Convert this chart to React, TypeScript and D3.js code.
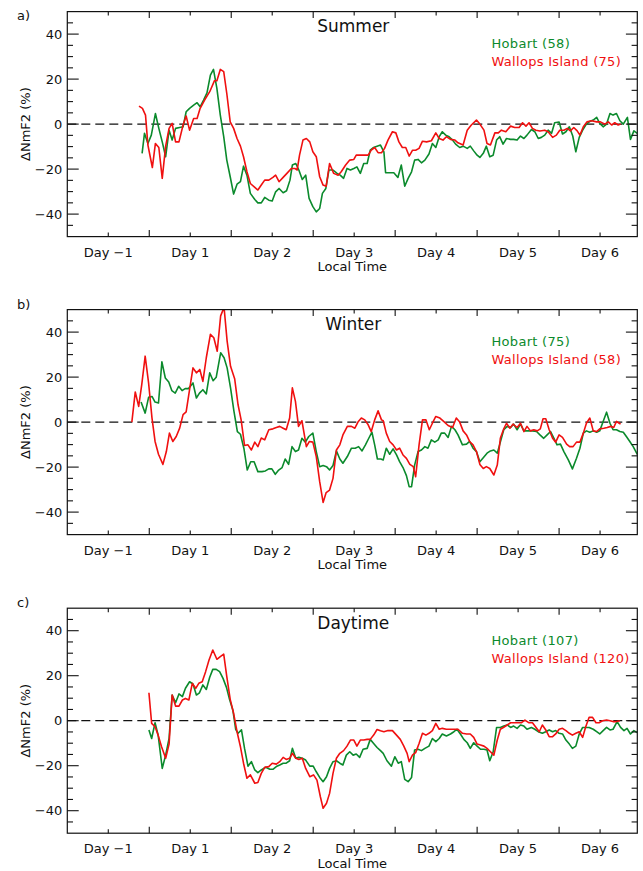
import React from "react";
import * as d3 from "d3";

// ---------- data (hours from storm onset, ΔNmF2 %) ----------
const panelLetters = ["a)", "b)", "c)"];
const panelTitles = ["Summer", "Winter", "Daytime"];
const hobartCounts = [58, 75, 107];
const wallopsCounts = [75, 58, 120];
const dayTickHours = [-12, 12, 36, 60, 84, 108, 132];
const dayTickLabels = ["Day \u22121", "Day 1", "Day 2", "Day 3", "Day 4", "Day 5", "Day 6"];
const yLabelTicks = [-40, -20, 0, 20, 40];

const summerHobart: [number, number][] = [
  [-2.1, -13.0], [-1.4, -4.1], [-0.4, -8.6], [0.6, -4.9], [1.8, 4.7], [2.8, -1.9], [3.8, -7.9], [4.8, -14.5],
  [5.8, -2.7], [6.7, -7.1], [7.7, -1.9], [8.9, -1.5], [9.9, -1.2], [10.8, 5.5], [11.8, 7.0], [13.0, 8.4],
  [14.0, 9.5], [14.9, 7.7], [15.9, 10.7], [16.9, 13.9], [17.9, 21.8], [18.8, 24.3], [19.8, 15.9], [20.8, 4.0],
  [21.8, -5.6], [22.7, -16], [23.7, -23.4], [24.7, -31.1], [25.7, -26.7], [26.7, -25.6], [27.6, -18.7],
  [28.6, -22.7], [29.6, -30.8], [30.9, -33.5], [31.8, -35], [32.8, -35], [33.8, -32.6], [35.0, -33.8],
  [36.0, -34.2], [37.0, -30.1], [38.0, -28.6], [39.2, -30.5], [40.2, -29.6], [41.2, -24.9], [41.9, -18.2],
  [42.9, -17.5], [43.8, -20.4], [44.8, -24.6], [45.8, -22.7], [46.8, -33], [47.9, -36.7], [48.9, -39],
  [49.9, -37.5], [50.7, -30.8], [51.7, -28.6], [52.6, -20.4], [53.8, -20.4], [55.0, -21.9], [55.9, -22.7],
  [56.9, -24.1], [57.9, -19.7], [58.9, -20.4], [59.9, -19.7], [60.8, -19], [61.8, -21.9], [62.8, -17.5],
  [63.8, -17.5], [64.7, -11.6], [65.7, -10.4], [66.7, -9.8], [67.7, -9.3], [68.7, -12.3], [69.2, -21.6],
  [70.4, -21.6], [71.6, -21.6], [72.8, -23.7], [73.8, -18.2], [74.8, -27.6], [75.8, -24.1], [76.8, -21.2],
  [77.7, -16], [78.7, -15.7], [79.7, -17.2], [80.7, -16], [81.9, -13.3], [82.9, -8.6], [83.9, -10.4],
  [84.9, -5.6], [85.8, -3.4], [86.8, -4.9], [87.8, -5.6], [88.8, -7.1], [89.7, -8.9], [90.9, -10.4],
  [91.9, -9.8], [93.1, -10.8], [94.0, -9.8], [95.0, -11.9], [96.0, -13.8], [96.8, -14.8], [97.8, -13.0],
  [98.7, -9.8], [99.7, -14.5], [100.7, -13.8], [101.7, -7.1], [102.6, -5.6], [103.6, -8.9], [104.6, -6.4],
  [105.8, -6.8], [106.7, -6.8], [107.7, -7.1], [108.7, -5.3], [109.7, -6.4], [110.6, -4.9], [111.9, -2.4],
  [112.9, -3.4], [113.9, -6.4], [114.8, -5.9], [115.8, -4.9], [116.8, -2.7], [117.8, -4.1], [118.7, 0.6],
  [120.0, 0.9], [121.0, -4.4], [122.0, -3.4], [123.0, -1.2], [124.0, -5.3], [124.9, -12.3], [125.9, -5.9],
  [126.9, -2.7], [127.8, -0.4], [128.8, 1.0], [130.0, 1.8], [131.0, 3.0], [131.9, 0.3], [132.9, -1.2],
  [133.9, 0], [134.9, 4.7], [135.8, 4.0], [136.8, 4.7], [137.8, 1.5], [138.8, 0], [140.0, 3.0],
  [140.9, -6.8], [141.9, -3.0], [142.9, -4.1],
];

const summerWallops: [number, number][] = [
  [-3.0, 8.0], [-2.0, 7], [-1.1, 4], [-0.4, -9.3], [0.9, -19.3], [1.8, -8.6], [2.8, -10.4], [3.8, -24.1],
  [4.8, -9.8], [5.8, -1.9], [6.7, 0.3], [7.7, -7.9], [8.7, -7.9], [9.9, -0.4], [10.8, 3.6], [11.8, -2.7],
  [13.0, 2.5], [14.0, 2.5], [14.9, 7], [16.2, 10.7], [17.7, 14.4], [19.1, 19.3], [19.8, 19.3], [20.8, 24.3],
  [21.8, 23.3], [22.7, 13.6], [23.7, 1.0], [24.7, -1.9], [25.7, -6.4], [26.7, -9.8], [27.6, -14.5],
  [28.6, -21.2], [29.6, -26.4], [30.9, -28.1], [31.8, -29.3], [32.8, -27.1], [33.8, -24.9], [35.0, -24.9],
  [36.2, -23.7], [37.0, -22.7], [38.0, -25.6], [39.2, -23.7], [40.3, -21.9], [41.6, -19.7], [42.6, -19.7],
  [43.3, -20.4], [44.0, -13.8], [45.0, -7.1], [46.0, -6.4], [47.0, -7.9], [47.9, -12.3], [48.9, -14.5],
  [49.9, -23.4], [50.9, -27.1], [51.8, -27.6], [52.8, -17.5], [54.0, -21.9], [55.3, -22.7], [56.2, -21.2],
  [57.5, -18.2], [58.7, -16], [59.9, -15.7], [60.6, -13.8], [61.8, -13.8], [63.1, -13.8], [64.1, -13.8],
  [65.0, -11.6], [66.0, -10.4], [67.0, -12.7], [68.0, -12.7], [68.9, -10.8], [69.9, -7.1], [71.2, -3.4],
  [72.2, -3.9], [73.1, -7.9], [74.1, -10.4], [75.1, -10.4], [76.1, -14.2], [77.1, -11.6], [78.0, -11.6],
  [79.0, -10.8], [80.0, -7.6], [81.2, -7.9], [82.6, -7.4], [83.9, -3.9], [84.9, -6.4], [86.0, -7.1],
  [87.0, -5.6], [88.2, -6.8], [89.5, -7.1], [90.4, -8.3], [91.9, -9.3], [93.1, -2.7], [94.3, -0.4],
  [95.8, 1.8], [96.8, 0], [98.0, -2.7], [98.9, -8.6], [99.9, -9.3], [101.2, -3.9], [102.2, -3.9],
  [103.1, -2.7], [104.4, -3.4], [105.8, -0.9], [107.0, -1.5], [108.3, -1.5], [109.3, 0.6], [110.3, -0.9],
  [111.2, 0.6], [112.2, -1.9], [113.2, -2.7], [114.4, -3.1], [115.8, -2.7], [116.8, -3.4], [118.1, -5.9],
  [119.2, -4.9], [120.2, -2.7], [121.4, -2.7], [122.4, -1.9], [123.3, -3.0], [124.3, -1.5], [125.3, -3.0],
  [126.1, -4.9], [127.1, -1.2], [128.2, 1.0], [129.5, 1.5], [131.0, 1.0], [132.1, 1.0], [133.4, 0],
  [134.4, 1.0], [135.4, -0.4], [136.3, 0.6], [137.3, -0.4], [138.0, 0],
];

const winterHobart: [number, number][] = [
  [-2.4, 8.9], [-1.2, 4.0], [-0.2, 11.0], [0.8, 11.4], [1.7, 8.9], [2.7, 8.5], [3.7, 26.8], [4.7, 19.6],
  [5.7, 17.8], [6.6, 14.0], [7.6, 12.9], [8.6, 15.9], [9.6, 14.0], [10.5, 14.9], [11.5, 14.9], [12.8, 17.4],
  [13.8, 10.7], [14.7, 12.9], [15.7, 14.4], [16.7, 12.5], [17.7, 21.9], [18.7, 18.4], [19.6, 19.9],
  [20.9, 30.8], [21.9, 28.6], [22.8, 24.1], [23.8, 15.2], [24.8, 4.8], [25.8, -4.2], [26.7, -5.4],
  [27.7, -11.6], [28.7, -21.3], [29.7, -17.6], [30.7, -17.6], [31.8, -22.0], [33.0, -22.0], [34.0, -21.7],
  [35.0, -20.8], [35.9, -20.8], [36.9, -23.2], [37.9, -21.3], [38.9, -20.2], [39.8, -16.4], [40.8, -18.8],
  [41.8, -10.9], [42.8, -13.1], [43.7, -12.4], [44.7, -7.2], [45.7, -8.9], [46.7, -6.4], [47.9, -4.9],
  [48.9, -13.1], [49.9, -19.8], [50.9, -19.3], [51.9, -19.8], [52.8, -21.3], [53.8, -19.3], [54.8, -12.8],
  [55.8, -16.4], [56.7, -18.3], [58.0, -15.3], [59.2, -11.6], [60.3, -11.6], [61.3, -10.9], [62.3, -12.8],
  [63.3, -10.1], [64.2, -7.4], [65.2, -4.5], [66.0, -10.1], [66.8, -16.4], [67.8, -16.4], [68.5, -16.8],
  [69.4, -11.6], [70.4, -14.3], [71.4, -11.9], [72.4, -14.6], [73.3, -17.6], [74.3, -20.2], [75.3, -23.8],
  [76.1, -28.7], [76.8, -28.7], [77.7, -19.1], [78.7, -13.1], [79.7, -12.4], [80.7, -10.9], [81.6, -11.6],
  [82.6, -7.9], [83.6, -8.9], [84.6, -7.9], [85.5, -4.9], [86.5, -4.9], [87.5, -6.8], [88.5, -1.9],
  [89.5, -3.4], [90.4, -5.7], [91.7, -10.1], [92.9, -9.8], [93.8, -8.6], [94.8, -11.6], [95.8, -13.1],
  [96.8, -17.6], [97.8, -15.8], [98.9, -13.8], [99.9, -12.8], [100.9, -12.4], [101.9, -13.8], [102.8, -8.9],
  [103.8, -3.4], [104.8, -1.9], [105.8, -2.4], [106.7, -0.9], [107.7, -3.4], [108.7, -0.9], [109.7, -3.9],
  [110.9, -3.9], [112.2, -3.9], [113.4, -4.2], [114.4, -5.7], [115.5, -7.2], [116.5, -5.7], [117.5, -4.2],
  [118.5, -7.2], [119.4, -10.1], [120.4, -9.8], [121.4, -13.1], [122.7, -16.8], [123.9, -20.8], [125.1, -16.1],
  [126.1, -11.6], [127.1, -4.9], [128.0, -3.9], [129.0, -4.5], [130.0, -3.9], [131.0, -4.5], [131.9, -3.9],
  [132.9, 0.3], [133.9, 4.4], [134.9, -0.5], [135.8, -3.4], [136.8, -3.4], [137.8, -4.2], [138.8, -4.5],
  [139.7, -6.4], [140.7, -8.6], [141.7, -10.9], [142.9, -14.3],
];

const winterWallops: [number, number][] = [
  [-5.1, 0], [-4.1, 13.4], [-3.1, 7], [-2.2, 16.7], [-1.2, 29.3], [-0.2, 17.4], [0.8, 1.8], [1.7, -8.6],
  [2.7, -14.3], [4.0, -18.8], [5.0, -13.1], [5.9, -4.9], [6.9, -8.6], [7.9, -6.4], [8.9, -2.7], [9.9, 3.3],
  [10.8, 4.5], [11.8, 14.4], [12.8, 24.1], [13.8, 21.9], [14.8, 23.4], [15.7, 18.1], [16.7, 28.6],
  [17.9, 39], [18.9, 37.5], [19.9, 31.5], [20.9, 47.2], [21.9, 51], [22.8, 36], [23.8, 24.8], [25.0, 19.3],
  [26.0, 7.7], [26.9, 1], [27.9, -10.4], [28.9, -10.1], [29.9, -12.4], [30.9, -8.9], [31.8, -10.9],
  [32.8, -7.1], [33.8, -7.9], [35.0, -3.4], [36.2, -3.0], [37.2, -2.4], [38.2, -1.9], [39.2, -2.7],
  [40.1, -3.4], [41.1, 1.8], [41.9, 15.2], [42.8, 9.2], [43.7, -1.9], [44.7, 0.6], [46.0, -10.9],
  [46.9, -8.6], [47.9, -8.9], [48.9, -15.3], [49.9, -26.5], [50.9, -35.7], [51.8, -31.3], [52.8, -30.2],
  [53.8, -25], [54.8, -12.4], [55.8, -10.1], [56.7, -5.7], [58.0, -1.9], [59.2, -1.9], [60.2, -2.7],
  [61.1, 0], [62.1, 1.8], [63.1, 1], [64.1, -1.2], [65.0, -4.2], [66.0, 1], [67.0, 5], [68.0, 1],
  [68.5, 0.6], [69.4, -4.9], [70.4, -8.6], [71.4, -10.1], [72.4, -12.4], [73.3, -11.6], [74.3, -14.6],
  [75.3, -16.1], [76.3, -18.8], [77.3, -19.8], [78.0, -24.3], [79.0, -10.1], [80.0, 1.0], [81.0, 1.0],
  [82.0, -3.4], [82.9, -0.5], [83.9, 2.5], [85.1, 1.8], [86.2, 0.3], [87.5, -1.5], [88.8, -2.4], [89.9, 1.8],
  [90.9, 0], [91.9, -3.9], [92.9, -5.7], [93.8, -8.6], [94.8, -10.1], [95.8, -13.1], [96.8, -18.8],
  [97.8, -20.6], [98.7, -19.8], [99.7, -20.6], [100.9, -23.5], [101.9, -19.1], [102.8, -7.2], [103.8, -3.0],
  [104.6, -0.5], [105.6, -2.7], [106.5, -0.9], [107.7, -2.4], [108.7, -0.5], [109.7, -4.2], [110.6, -1.9],
  [111.6, -3.9], [112.6, -3.4], [113.6, -3.9], [114.5, -3.0], [115.3, 1.5], [116.1, 1.5], [117.1, -3.4],
  [118.1, -7.2], [119.0, -8.9], [120.0, -5.7], [121.0, -6.8], [122.2, -9.8], [123.1, -10.9], [124.1, -10.9],
  [125.1, -8.9], [126.1, -8.9], [127.1, -4.9], [128.0, -0.5], [129.0, 1.8], [130.0, -3.9], [131.0, -4.2],
  [131.9, -3.0], [133.1, -2.7], [134.1, -2.4], [135.1, -1.9], [136.0, -2.4], [136.8, 0.3], [137.6, -0.5],
  [138.0, -0.9],
];

const daytimeHobart: [number, number][] = [
  [-0.1, -4.1], [0.7, -7.9], [1.7, -0.9], [2.6, -6.4], [3.8, -21.2], [4.8, -15.3], [5.8, -7.9], [6.7, 11.4],
  [7.7, 8.0], [8.7, 11.9], [9.7, 10.7], [10.6, 14.4], [11.8, 17.3], [12.8, 16.3], [13.8, 11.4], [14.7, 12.4],
  [15.7, 15.9], [16.7, 13.9], [17.7, 19.3], [18.6, 22.8], [19.6, 22.8], [20.6, 21.8], [21.6, 18.8],
  [22.6, 14.8], [23.5, 9.5], [24.5, 4.5], [25.3, -3.8], [26.0, -5.6], [27.0, -4.1], [27.9, -12.3],
  [28.9, -20.2], [29.9, -18.2], [30.9, -21.9], [31.8, -23.1], [32.8, -21.9], [34.1, -20.7], [35.3, -21.6],
  [36.2, -21.6], [37.2, -20.4], [38.2, -19.7], [39.2, -18.9], [40.1, -18.9], [41.1, -17.8], [41.9, -12.3],
  [42.9, -16.7], [43.8, -16.3], [44.8, -16.7], [45.8, -17.5], [47.0, -20.2], [48.0, -20.2], [48.9, -22.7],
  [49.9, -25.2], [50.9, -27.1], [51.9, -24.9], [52.8, -21.2], [53.8, -18.2], [54.8, -17.8], [55.8, -18.9],
  [56.7, -19.7], [57.7, -15.3], [58.7, -13.8], [59.7, -15.3], [60.6, -14.8], [61.6, -16.3], [62.6, -12.7],
  [63.8, -12.3], [64.7, -8.3], [65.7, -10.1], [66.7, -11.9], [67.7, -13.3], [68.5, -14.5], [69.6, -17.8],
  [70.9, -20.2], [71.9, -16], [72.9, -18.9], [73.8, -18.2], [74.8, -26.1], [75.8, -27.1], [76.8, -25.2],
  [77.7, -13], [78.7, -12.7], [79.7, -13.3], [80.7, -12.3], [81.9, -11.3], [82.9, -7.9], [83.9, -9.3],
  [84.9, -7.9], [85.8, -5.9], [87.0, -6.8], [88.2, -5.9], [89.2, -4.9], [90.1, -3.8], [91.1, -5.9],
  [92.1, -8.3], [93.1, -9.8], [94.0, -12.3], [95.0, -9.8], [96.0, -11.3], [97.0, -12.7], [98.0, -12.7],
  [98.9, -13], [99.7, -17.8], [100.7, -13.8], [101.7, -3.0], [102.8, -3.0], [103.8, -2.4], [104.8, -1.9],
  [105.8, -3.0], [106.7, -2.4], [107.7, -3.4], [108.7, -1.9], [109.7, -2.4], [110.6, -3.8], [111.9, -3.0],
  [112.9, -3.8], [113.9, -4.9], [115.1, -5.6], [116.1, -4.9], [117.1, -4.1], [118.1, -4.9], [119.0, -4.4],
  [120.0, -5.6], [121.0, -5.9], [122.0, -8.6], [123.0, -10.4], [123.9, -12.3], [124.9, -11.3], [125.9, -5.9],
  [126.9, -3.0], [127.8, -3.0], [128.8, -3.0], [130.0, -3.8], [131.0, -4.9], [131.9, -5.9], [132.9, -4.4],
  [133.9, -3.0], [134.9, -4.1], [135.8, -3.8], [137.0, -0.4], [138.0, -3.0], [139.0, -4.4], [139.9, -3.4],
  [140.9, -5.9], [141.9, -4.4], [142.9, -5.3],
];

const daytimeWallops: [number, number][] = [
  [-0.1, 12.4], [0.7, -1.2], [1.7, -2.7], [2.6, -6.4], [3.6, -11.6], [4.8, -16.7], [5.8, -10.4], [6.7, 11.4],
  [7.7, 6.5], [8.7, 6.5], [9.7, 9.2], [10.6, 9.9], [11.6, 9.2], [12.6, 16.6], [13.6, 14.4], [14.5, 16.6],
  [15.5, 17.3], [16.5, 21.8], [17.5, 27], [18.6, 31.4], [19.8, 27.3], [20.8, 28.5], [21.8, 29.6],
  [22.7, 19.6], [23.7, 9.5], [24.7, 3.3], [25.7, -4.9], [26.7, -11.6], [27.6, -18.9], [28.6, -25.6],
  [29.6, -24.1], [30.9, -27.8], [31.8, -27.5], [32.8, -23.4], [33.8, -20.7], [35.0, -20.4], [36.0, -18.9],
  [37.2, -19.3], [38.2, -18.2], [39.2, -16.3], [40.1, -17.2], [41.1, -16.7], [41.9, -14.5], [42.9, -16.7],
  [43.8, -17.2], [44.8, -16.7], [45.8, -21.2], [47.0, -24.9], [48.1, -24.1], [49.1, -26.4], [50.1, -33.8],
  [50.9, -38.9], [51.9, -36.7], [52.8, -32.3], [53.8, -23.4], [54.8, -16.7], [55.8, -14.5], [56.9, -13.3],
  [57.9, -11.3], [58.9, -8.6], [59.9, -8.6], [60.8, -11.3], [61.8, -8.6], [62.8, -8.6], [63.8, -8.3],
  [64.7, -8.3], [65.7, -6.4], [66.7, -3.9], [67.7, -4.5], [68.7, -4.9], [69.9, -4.4], [71.2, -4.4],
  [72.4, -6.4], [73.5, -8.3], [74.5, -11.2], [75.5, -14.5], [76.1, -18.2], [77.1, -15.2], [78.0, -14.2],
  [79.0, -10.1], [80.0, -5.6], [81.0, -6.4], [81.9, -5.6], [82.9, -4.4], [83.9, -1.2], [84.9, -3.8],
  [85.8, -3.4], [87.0, -3.8], [88.2, -3.8], [89.5, -3.8], [90.4, -3.8], [91.7, -5.6], [92.9, -5.9],
  [94.0, -5.9], [95.0, -7.4], [96.0, -10.4], [97.0, -10.8], [98.0, -11.3], [98.9, -12.3], [99.9, -13.8],
  [100.9, -15.3], [101.9, -8.6], [102.8, -3.8], [103.8, -2.9], [104.8, -1.9], [105.8, -0.9], [106.7, -0.9],
  [107.7, -0.9], [109.0, -0.9], [110.0, 0.3], [111.1, -0.9], [112.2, -0.9], [113.2, -2.9], [114.2, -4.9],
  [115.1, -1.9], [116.1, -4.1], [117.1, -7.1], [118.1, -7.1], [119.0, -5.9], [120.0, -3.8], [121.0, -3.4],
  [122.0, -4.4], [123.0, -5.6], [123.9, -6.4], [124.9, -5.6], [125.9, -4.9], [126.9, -7.4], [127.8, -2.7],
  [128.8, 1.5], [129.8, 1.5], [130.8, -0.9], [131.7, -0.9], [132.7, 0], [133.9, 0.3], [134.9, 0],
  [135.8, -0.4], [136.8, -0.4], [137.8, 0],
];

const hobartSeries = [summerHobart, winterHobart, daytimeHobart];
const wallopsSeries = [summerWallops, winterWallops, daytimeWallops];

// ---------- layout ----------
const WIDTH = 643;
const HEIGHT = 871;
const PLOT_LEFT = 67.3;
const PLOT_RIGHT = 637.3;
const PLOT_H = 225;
const PANEL_TOPS = [11.6, 309.6, 608.2];
const LETTER_Y = [20, 309, 607];
const GREEN = "#0b8a2c";
const RED = "#f01010";
const FONT = "'DejaVu Sans', sans-serif";

function Panel({ idx }: { idx: number }) {
  const top = PANEL_TOPS[idx];
  const bottom = top + PLOT_H;
  const x = d3.scaleLinear().domain([-24, 142.9]).range([PLOT_LEFT, PLOT_RIGHT]);
  const y = d3.scaleLinear().domain([-50, 50]).range([bottom, top]);
  const line = d3
    .line<[number, number]>()
    .x((d) => x(d[0]))
    .y((d) => y(d[1]));
  const clipId = `clip-${idx}`;
  const xTicks = d3.range(-12, 142, 12);
  const yTicks = d3.range(-45, 50, 5);
  const midX = (PLOT_LEFT + PLOT_RIGHT) / 2;

  return (
    <g>
      <defs>
        <clipPath id={clipId}>
          <rect x={PLOT_LEFT} y={top} width={PLOT_RIGHT - PLOT_LEFT} height={PLOT_H} />
        </clipPath>
      </defs>
      <text x={17} y={LETTER_Y[idx]} fontSize={13} fontFamily={FONT} fill="#111">
        {panelLetters[idx]}
      </text>
      {/* zero line */}
      <line
        x1={PLOT_LEFT}
        x2={PLOT_RIGHT}
        y1={y(0)}
        y2={y(0)}
        stroke="#111"
        strokeWidth={1.2}
        strokeDasharray="9,5"
      />
      <g clipPath={`url(#${clipId})`}>
        <path d={line(hobartSeries[idx]) || ""} fill="none" stroke={GREEN} strokeWidth={1.6} strokeLinejoin="round" />
        <path d={line(wallopsSeries[idx]) || ""} fill="none" stroke={RED} strokeWidth={1.6} strokeLinejoin="round" />
      </g>
      {/* frame */}
      <rect
        x={PLOT_LEFT}
        y={top}
        width={PLOT_RIGHT - PLOT_LEFT}
        height={PLOT_H}
        fill="none"
        stroke="#111"
        strokeWidth={1.2}
      />
      {/* y ticks */}
      {yTicks.map((t) => {
        const major = t % 20 === 0;
        const len = major ? 11.4 : 5.7;
        return (
          <g key={`y${t}`}>
            <line x1={PLOT_LEFT} x2={PLOT_LEFT + len} y1={y(t)} y2={y(t)} stroke="#111" strokeWidth={1.1} />
            <line x1={PLOT_RIGHT} x2={PLOT_RIGHT - len} y1={y(t)} y2={y(t)} stroke="#111" strokeWidth={1.1} />
          </g>
        );
      })}
      {yLabelTicks.map((t) => (
        <text
          key={`yl${t}`}
          x={PLOT_LEFT - 5}
          y={y(t) + 4.7}
          textAnchor="end"
          fontSize={13}
          fontFamily={FONT}
          fill="#111"
        >
          {t < 0 ? `\u2212${Math.abs(t)}` : `${t}`}
        </text>
      ))}
      {/* x ticks */}
      {xTicks.map((t) => {
        const major = t % 24 === 0;
        const len = major ? 6.5 : 4;
        return (
          <g key={`x${t}`}>
            <line x1={x(t)} x2={x(t)} y1={bottom} y2={bottom - len} stroke="#111" strokeWidth={1.1} />
            <line x1={x(t)} x2={x(t)} y1={top} y2={top + len} stroke="#111" strokeWidth={1.1} />
          </g>
        );
      })}
      {dayTickHours.map((h, i) => (
        <text
          key={`xl${h}`}
          x={x(h)}
          y={bottom + 20}
          textAnchor="middle"
          fontSize={13}
          fontFamily={FONT}
          fill="#111"
        >
          {dayTickLabels[i]}
        </text>
      ))}
      <text x={midX} y={bottom + 34.7} textAnchor="middle" fontSize={13} fontFamily={FONT} fill="#111">
        Local Time
      </text>
      <text
        transform={`translate(${29.5},${(top + bottom) / 2}) rotate(-90)`}
        textAnchor="middle"
        fontSize={13}
        fontFamily={FONT}
        fill="#111"
      >
        ΔNmF2 (%)
      </text>
      <text x={midX + 1} y={top + 20.5} textAnchor="middle" fontSize={17} fontFamily={FONT} fill="#111">
        {panelTitles[idx]}
      </text>
      <text x={491.5} y={top + 36.5} fontSize={13} fontFamily={FONT} fill={GREEN} letterSpacing={0.3}>
        {`Hobart (${hobartCounts[idx]})`}
      </text>
      <text x={491.5} y={top + 54.7} fontSize={13} fontFamily={FONT} fill={RED} letterSpacing={0.3}>
        {`Wallops Island (${wallopsCounts[idx]})`}
      </text>
    </g>
  );
}

export default function App() {
  return (
    <svg
      width={WIDTH}
      height={HEIGHT}
      viewBox={`0 0 ${WIDTH} ${HEIGHT}`}
      style={{ position: "absolute", left: 0, top: 0, background: "#fff" }}
    >
      <rect x={0} y={0} width={WIDTH} height={HEIGHT} fill="#fff" />
      {[0, 1, 2].map((i) => (
        <Panel key={i} idx={i} />
      ))}
    </svg>
  );
}
